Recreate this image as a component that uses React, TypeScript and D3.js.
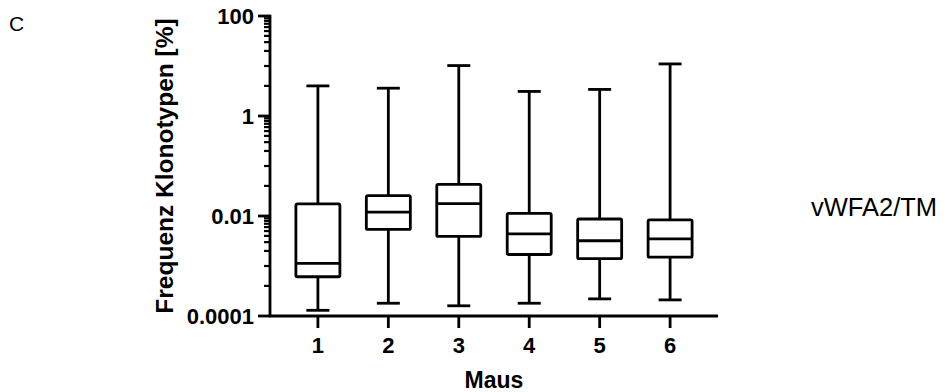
import React, { useEffect, useRef } from "react";
import * as d3 from "d3";

const mice = ["1", "2", "3", "4", "5", "6"];
const whiskerMax = [4.0, 3.6, 10.2, 3.1, 3.4, 11.0];
const q3 = [0.0174, 0.0255, 0.043, 0.0113, 0.0087, 0.0084];
const median = [0.00113, 0.012, 0.0176, 0.0044, 0.0032, 0.0035];
const q1 = [0.00061, 0.0054, 0.0039, 0.0017, 0.0014, 0.0015];
const whiskerMin = [0.00013, 0.00018, 0.00016, 0.00018, 0.00022, 0.00021];

const yTicks = [0.0001, 0.01, 1, 100];
const yTickLabels = ["0.0001", "0.01", "1", "100"];

const FONT = "'Liberation Sans', Arial, Helvetica, sans-serif";

const BoxPlot = () => {
  const svgRef = useRef(null);

  useEffect(() => {
    const svg = d3.select(svgRef.current);
    svg.selectAll("*").remove();

    const left = 270;
    const right = 718;
    const top = 16;
    const bottom = 316;

    const x = d3.scalePoint().domain(mice).range([left, right]).padding(0.68);
    const y = d3.scaleLog().domain([0.0001, 100]).range([bottom, top]);

    // minor ticks between the majors (Prism style)
    const minor = [];
    [-3, -1, 1].forEach((k) => {
      for (let m = 1; m <= 9; m++) minor.push(m * Math.pow(10, k));
      minor.push(4 * Math.pow(10, k - 1));
    });

    const g = svg.append("g").attr("stroke", "black").attr("fill", "none");

    // y axis
    g.append("line")
      .attr("x1", left)
      .attr("x2", left)
      .attr("y1", top - 1.2)
      .attr("y2", bottom)
      .attr("stroke-width", 2.8);

    g.selectAll(".minor")
      .data(minor)
      .join("line")
      .attr("x1", left - 6)
      .attr("x2", left)
      .attr("y1", (d) => y(d))
      .attr("y2", (d) => y(d))
      .attr("stroke-width", 2.2);

    g.selectAll(".major")
      .data(yTicks)
      .join("line")
      .attr("x1", left - 12)
      .attr("x2", left)
      .attr("y1", (d) => y(d))
      .attr("y2", (d) => y(d))
      .attr("stroke-width", 2.8);

    // x axis
    g.append("line")
      .attr("x1", left - 1.2)
      .attr("x2", right)
      .attr("y1", bottom)
      .attr("y2", bottom)
      .attr("stroke-width", 2.8);

    g.selectAll(".xtick")
      .data(mice)
      .join("line")
      .attr("x1", (d) => x(d))
      .attr("x2", (d) => x(d))
      .attr("y1", bottom)
      .attr("y2", bottom + 12)
      .attr("stroke-width", 2.8);

    // boxes
    const boxW = 44;
    const capW = 23;
    const boxes = g
      .selectAll(".box")
      .data(mice)
      .join("g")
      .attr("stroke-width", 2.8)
      .attr("stroke-linejoin", "round");

    boxes
      .append("line")
      .attr("x1", (d) => x(d))
      .attr("x2", (d) => x(d))
      .attr("y1", (d, i) => y(whiskerMax[i]))
      .attr("y2", (d, i) => y(q3[i]));
    boxes
      .append("line")
      .attr("x1", (d) => x(d))
      .attr("x2", (d) => x(d))
      .attr("y1", (d, i) => y(q1[i]))
      .attr("y2", (d, i) => y(whiskerMin[i]));
    boxes
      .append("line")
      .attr("x1", (d) => x(d) - capW / 2)
      .attr("x2", (d) => x(d) + capW / 2)
      .attr("y1", (d, i) => y(whiskerMax[i]))
      .attr("y2", (d, i) => y(whiskerMax[i]));
    boxes
      .append("line")
      .attr("x1", (d) => x(d) - capW / 2)
      .attr("x2", (d) => x(d) + capW / 2)
      .attr("y1", (d, i) => y(whiskerMin[i]))
      .attr("y2", (d, i) => y(whiskerMin[i]));
    boxes
      .append("rect")
      .attr("x", (d) => x(d) - boxW / 2)
      .attr("width", boxW)
      .attr("y", (d, i) => y(q3[i]))
      .attr("height", (d, i) => y(q1[i]) - y(q3[i]))
      .attr("rx", 1.5)
      .attr("fill", "white");
    boxes
      .append("line")
      .attr("x1", (d) => x(d) - boxW / 2)
      .attr("x2", (d) => x(d) + boxW / 2)
      .attr("y1", (d, i) => y(median[i]))
      .attr("y2", (d, i) => y(median[i]));

    // texts
    const t = svg.append("g").attr("font-family", FONT).attr("fill", "black");

    t.selectAll(".ylab")
      .data(yTicks)
      .join("text")
      .attr("x", left - 16)
      .attr("y", (d) => y(d))
      .attr("dy", "0.36em")
      .attr("text-anchor", "end")
      .attr("font-size", 22)
      .attr("font-weight", "bold")
      .text((d, i) => yTickLabels[i]);

    t.selectAll(".xlab")
      .data(mice)
      .join("text")
      .attr("x", (d) => x(d))
      .attr("y", bottom + 37)
      .attr("text-anchor", "middle")
      .attr("font-size", 22)
      .attr("font-weight", "bold")
      .text((d) => d);

    t.append("text")
      .attr("x", (left + right) / 2)
      .attr("y", 388)
      .attr("text-anchor", "middle")
      .attr("font-size", 23)
      .attr("font-weight", "bold")
      .text("Maus");

    t.append("text")
      .attr("transform", `translate(173,${(top + bottom) / 2}) rotate(-90)`)
      .attr("text-anchor", "middle")
      .attr("font-size", 24.5)
      .attr("font-weight", "bold")
      .text("Frequenz Klonotypen [%]");

    t.append("text")
      .attr("x", 9)
      .attr("y", 31)
      .attr("font-size", 21)
      .text("C");

    t.append("text")
      .attr("x", 811)
      .attr("y", 216)
      .attr("font-size", 25.5)
      .text("vWFA2/TM");
  }, []);

  return (
    <svg
      ref={svgRef}
      width={945}
      height={392}
      style={{ position: "absolute", left: 0, top: 0, background: "white" }}
    />
  );
};

export default function App() {
  return <BoxPlot />;
}
